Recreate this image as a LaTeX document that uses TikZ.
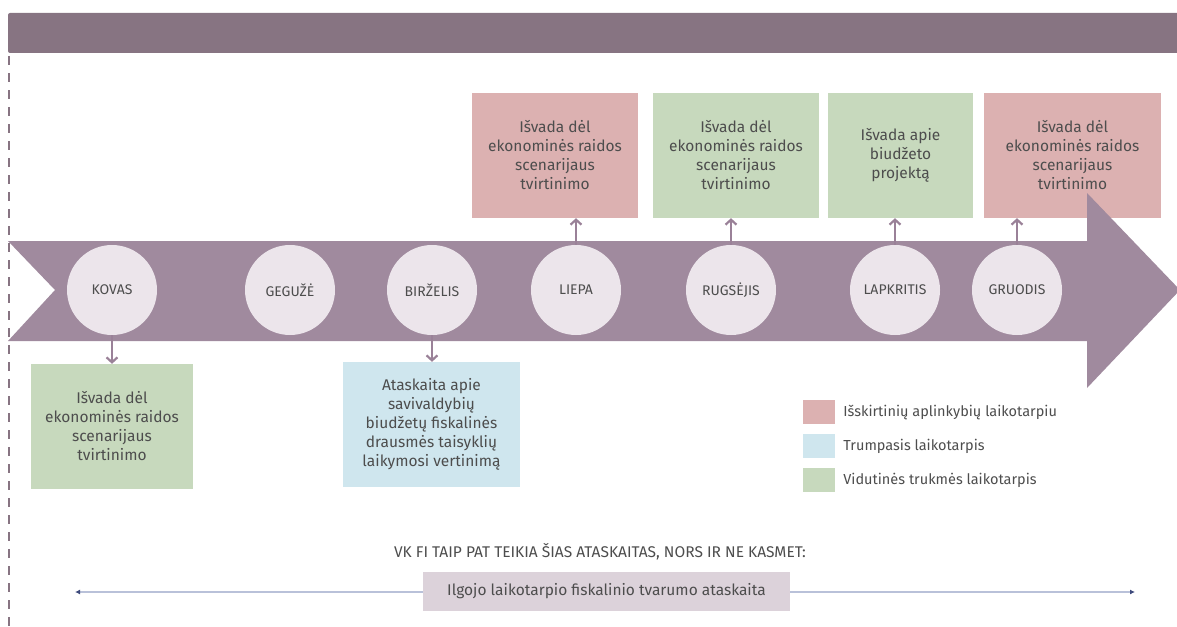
\documentclass[tikz,border=0pt]{standalone}
\usepackage{fontspec}
\setmainfont{Fira Sans}
\usetikzlibrary{arrows.meta,positioning}
\definecolor{bannercol}{HTML}{877482}
\definecolor{bandcol}{HTML}{A08A9E}
\definecolor{monthcol}{HTML}{ECE5EB}
\definecolor{pinkcol}{HTML}{DCB1B1}
\definecolor{greencol}{HTML}{C7D9BD}
\definecolor{bluecol}{HTML}{CFE6EE}
\definecolor{greycol}{HTML}{DCD2DA}
\definecolor{txtcol}{HTML}{4D4D4D}
\definecolor{conncol}{HTML}{9A8198}
\definecolor{linecol}{HTML}{B9C1D9}
\definecolor{tipcol}{HTML}{3E4A7C}
\tikzset{
  month/.style={circle, fill=monthcol, minimum size=90pt, inner sep=0pt,
    text=txtcol, font=\fontsize{14}{16}\selectfont},
  report/.style={fill=#1, minimum height=125pt, inner sep=2pt, align=center,
    text=txtcol, font=\fontsize{15.5}{19}\selectfont},
  conn/.style={draw=conncol, line width=2.2pt,
    -{Straight Barb[length=5pt,width=11pt]}},
  legsq/.style={fill=#1, minimum width=32pt, minimum height=24pt, inner sep=0pt},
  legtext/.style={text=txtcol, font=\fontsize{14.5}{16}\selectfont, inner sep=0pt}
}
\begin{document}
\begin{tikzpicture}[x=1pt,y=-1pt]
  \useasboundingbox (0,0) rectangle (1177,626);
  \fill[bannercol, rounded corners=2pt] (8,13) rectangle (1190,53);
  \draw[bannercol, line width=2.5pt, dash pattern=on 9pt off 8pt] (9,56) -- (9,626);

  \node[report=pinkcol, minimum width=166pt] (liepabox) at (555,155.5)
    {Išvada dėl\\ekonominės raidos\\scenarijaus\\tvirtinimo};
  \node[report=greencol, minimum width=166pt] (rugsbox) at (736,155.5)
    {Išvada dėl\\ekonominės raidos\\scenarijaus\\tvirtinimo};
  \node[report=greencol, minimum width=145pt] (lapkbox) at (900.5,155.5)
    {Išvada apie\\biudžeto\\projektą};
  \node[report=pinkcol, minimum width=177pt] (gruobox) at (1072.5,155.5)
    {Išvada dėl\\ekonominės raidos\\scenarijaus\\tvirtinimo};

  \fill[bandcol] (8,241) -- (1087,241) -- (1087,193) -- (1180,290)
    -- (1087,388) -- (1087,341) -- (8,341) -- (55,290) -- cycle;

  \node[month] (kovas) at (112,290) {KOVAS};
  \node[month] (geguze) at (290,290) {GEGUŽĖ};
  \node[month] (birzelis) at (432,290) {BIRŽELIS};
  \node[month] (liepa) at (576,290) {LIEPA};
  \node[month] (rugsejis) at (731,290) {RUGSĖJIS};
  \node[month] (lapkritis) at (895,290) {LAPKRITIS};
  \node[month] (gruodis) at (1017,290) {GRUODIS};

  \node[report=greencol, minimum width=162pt] (kovasbox) at (112,426.5)
    {Išvada dėl\\ekonominės raidos\\scenarijaus\\tvirtinimo};
  \node[report=bluecol, minimum width=177pt] (birzbox) at (431.5,424.5)
    {Ataskaita apie\\savivaldybių\\biudžetų fiskalinės\\drausmės taisyklių\\laikymosi vertinimą};

  \draw[conn] (liepa.north) -- (liepa.north |- liepabox.south);
  \draw[conn] (rugsejis.north) -- (rugsejis.north |- rugsbox.south);
  \draw[conn] (lapkritis.north) -- (lapkritis.north |- lapkbox.south);
  \draw[conn] (gruodis.north) -- (gruodis.north |- gruobox.south);
  \draw[conn] (kovas.south) -- (kovas.south |- kovasbox.north);
  \draw[conn] (birzelis.south) -- (birzelis.south |- birzbox.north);

  \node[legsq=pinkcol] (legpink) at (819,412) {};
  \node[legsq=bluecol] (legblue) at (819,446) {};
  \node[legsq=greencol] (leggreen) at (819,480) {};
  \node[legtext, anchor=west, right=8pt of legpink] (legpinktxt) {Išskirtinių aplinkybių laikotarpiu};
  \node[legtext, anchor=west, right=8pt of legblue] (legbluetxt) {Trumpasis laikotarpis};
  \node[legtext, anchor=west, right=8pt of leggreen] (leggreentxt) {Vidutinės trukmės laikotarpis};

  \node[text=txtcol, font=\fontsize{15.5}{17}\selectfont] (note) at (600,552)
    {VK FI TAIP PAT TEIKIA ŠIAS ATASKAITAS, NORS IR NE KASMET:};
  \coordinate (lineL) at (75,592);
  \coordinate (lineR) at (1135,592);
  \draw[linecol, line width=1.5pt, {Latex[length=5pt,width=5pt,color=tipcol]}-{Latex[length=5pt,width=5pt,color=tipcol]}]
    (lineL) -- (lineR);
  \node[fill=greycol, minimum width=367pt, minimum height=39pt, text=txtcol,
    font=\fontsize{15.5}{17}\selectfont] (longterm) at (606.5,591.5)
    {Ilgojo laikotarpio fiskalinio tvarumo ataskaita};
\end{tikzpicture}
\end{document}
